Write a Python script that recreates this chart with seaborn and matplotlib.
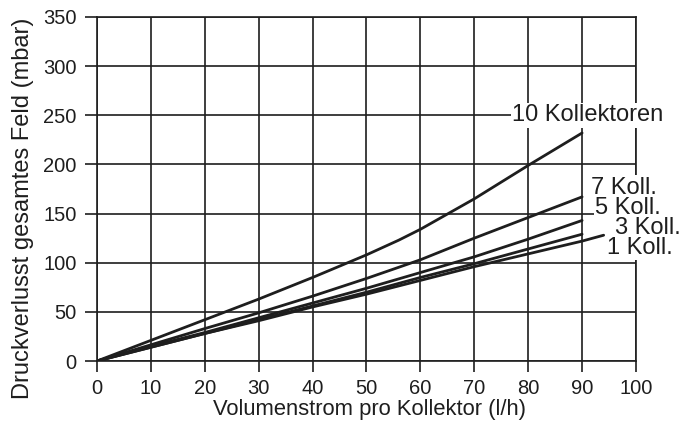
import matplotlib
matplotlib.use("Agg")
import matplotlib.pyplot as plt
import seaborn as sns
import pandas as pd

## DATA
x_std = [0, 10, 20, 30, 40, 50, 60, 70, 80, 90]
x_10 = [0, 10, 20, 30, 40, 50, 56, 60, 70, 80, 90]
y_10 = [0, 21, 42, 63, 85, 108, 123, 134, 165, 199, 232]
y_7 = [0, 16.5, 33, 49, 66, 84, 103, 125, 146, 167]
y_5 = [0, 15, 29, 44, 59, 74, 90, 106, 124, 143]
y_3 = [0, 14, 28, 42, 56, 70, 85, 99, 114, 129]
x_1 = [0, 10, 20, 30, 40, 50, 60, 70, 80, 90, 94]
y_1 = [0, 14, 28, 41, 55, 68, 82, 96, 109, 122, 128]

series = ["10 Kollektoren", "7 Koll.", "5 Koll.", "3 Koll.", "1 Koll."]
label_x = [77, 91.6, 92.4, 96.1, 94.7]
label_y = [250, 176.5, 155.3, 135.8, 115]

x_ticks = list(range(0, 101, 10))
y_ticks = list(range(0, 351, 50))

frames = []
for name, xs, ys in [
    (series[0], x_10, y_10),
    (series[1], x_std, y_7),
    (series[2], x_std, y_5),
    (series[3], x_std, y_3),
    (series[4], x_1, y_1),
]:
    frames.append(pd.DataFrame({"flow": xs, "dp": ys, "field": name}))
df = pd.concat(frames, ignore_index=True)

## PLOT
sns.set_style("white")
plt.rcParams["font.family"] = ["Liberation Sans", "DejaVu Sans"]
ink = "#1e1e1e"

fig = plt.figure(figsize=(6.88, 4.28), dpi=100)
ax = fig.add_axes([0.141, 0.1565, 0.7834, 0.8038])

sns.lineplot(data=df, x="flow", y="dp", hue="field", palette=[ink] * 5,
             linewidth=2.0, legend=False, sort=False, estimator=None, ax=ax, zorder=4)

ax.set_xlim(0, 100)
ax.set_ylim(0, 350)
ax.set_xticks(x_ticks)
ax.set_yticks(y_ticks)
ax.grid(True, color=ink, linewidth=1.2)
ax.set_axisbelow(True)
for sp in ax.spines.values():
    sp.set_color(ink)
    sp.set_linewidth(1.2)

ax.tick_params(axis="x", direction="out", length=8, width=1.2, color=ink,
               pad=5, labelsize=14.5, labelcolor=ink, bottom=True)
ax.tick_params(axis="y", direction="out", length=8.6, width=1.2, color=ink,
               pad=6, labelsize=14.5, labelcolor=ink, left=True)

ax.set_xlabel("Volumenstrom pro Kollektor (l/h)", fontsize=15.8, color=ink)
ax.set_ylabel("Druckverlusst gesamtes Feld (mbar)", fontsize=17, color=ink)
ax.xaxis.set_label_coords(0.505, -0.11)
ax.yaxis.set_label_coords(-0.117, 0.445)

for name, tx, ty in zip(series, label_x, label_y):
    ax.text(tx, ty, name, fontsize=17, color=ink, ha="left", va="center",
            bbox=dict(facecolor="white", edgecolor="none", pad=1.0), zorder=3,
            clip_on=False)

fig.savefig("out.png", dpi=100)
